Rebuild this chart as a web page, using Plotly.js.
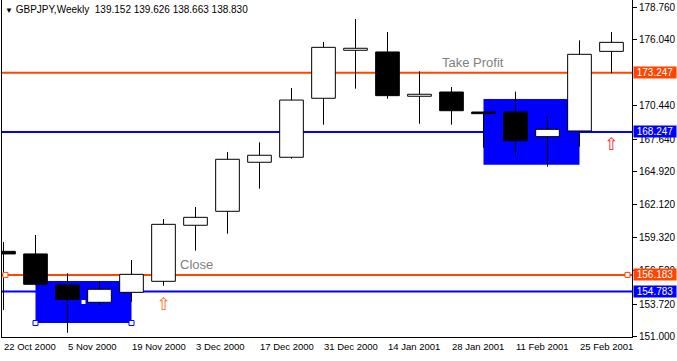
<!DOCTYPE html>
<html><head><meta charset="utf-8">
<script src="https://cdn.plot.ly/plotly-3.0.1.min.js"></script>
<style>html,body{margin:0;padding:0;background:#fff}#chart{width:677px;height:361px}</style>
</head><body><div id="chart"></div>
<script>
// ---- data ----
const dates = ["22 Oct 2000","29 Oct 2000","5 Nov 2000","12 Nov 2000","19 Nov 2000","26 Nov 2000","3 Dec 2000","10 Dec 2000","17 Dec 2000","24 Dec 2000","31 Dec 2000","7 Jan 2001","14 Jan 2001","21 Jan 2001","28 Jan 2001","4 Feb 2001","11 Feb 2001","18 Feb 2001","25 Feb 2001","4 Mar 2001"];
const open  = [158.17,157.95,155.33,153.87,154.71,155.64,160.37,161.55,165.69,166.11,171.09,175.14,175.00,171.26,171.62,169.93,169.93,167.85,168.33,175.05];
const high  = [158.96,159.55,156.32,155.67,157.44,160.90,161.91,166.56,167.37,171.96,175.84,177.78,176.68,173.37,172.04,169.95,171.65,169.62,175.98,176.68];
const low   = [153.22,155.30,151.30,153.64,153.92,155.27,158.23,159.66,163.46,165.99,168.86,171.90,171.05,168.94,168.86,166.92,166.30,165.32,167.00,173.20];
const close = [157.95,155.39,154.12,154.97,156.23,160.45,161.04,165.94,166.28,170.94,175.39,175.31,171.31,171.43,170.04,169.79,167.51,168.47,174.80,175.81];

const levelPrices = [173.247, 168.247, 156.183, 154.783];
const levelNames  = ["Take Profit", "", "Close", ""];
const levelNameBar = [13.65, null, 5.45, null];

const rectStartBar = [1, 15];
const rectEndBar   = [4, 18];
const rectTop      = [155.67, 171.03];
const rectBottom   = [152.12, 165.48];

const arrowBar   = [5, 19];
const arrowPrice = [153.56, 167.10];

const yTicks = [151.000,153.720,156.520,159.320,162.120,164.920,167.640,170.440,176.040,178.760];
const symbolName = "GBPJPY,Weekly";
const lastOHLC = "139.152 139.626 138.663 138.830";

// ---- styles ----
const ORANGE = '#FF4500', BLUE = '#0000FF';
const levelColors = [ORANGE, BLUE, ORANGE, BLUE];
const arrowColors = ['#FF6A1A', '#FF1A1A'];
const FONT = 'Liberation Sans, Arial, sans-serif';

const idx = dates.map((d, i) => i);
const bodyLo = idx.map(i => Math.min(open[i], close[i]));
const bodyHi = idx.map(i => Math.max(open[i], close[i]));

// wicks (upper and lower segments, so they don't cross bodies)
const wx = [], wy = [];
idx.forEach(i => {
  wx.push(i, i, null, i, i, null);
  wy.push(high[i], bodyHi[i], null, bodyLo[i], low[i], null);
});

const traces = [
  {type:'bar', x: idx, base: bodyLo, y: idx.map(i => bodyHi[i] - bodyLo[i]), width: 0.74,
   marker:{color: idx.map(i => close[i] >= open[i] ? '#FFFFFF' : '#000000'), line:{color:'#000', width:1}},
   hoverinfo:'skip', showlegend:false},
  {type:'scatter', mode:'lines', x: wx, y: wy, line:{color:'#000', width:1}, hoverinfo:'skip', showlegend:false, cliponaxis:true},
  {type:'scatter', mode:'text', x: arrowBar, y: arrowPrice, text: arrowBar.map(() => '\u21E7'),
   textfont:{family:'DejaVu Sans', size:17, color: arrowColors}, hoverinfo:'skip', showlegend:false},
  // selection handles derived from object geometry
  {type:'scatter', mode:'markers',
   x: [0.06, 19.5, rectStartBar[0], rectEndBar[0]],
   y: [levelPrices[2], levelPrices[2], rectBottom[0], rectBottom[0]],
   marker:{symbol:'square', size:5, color:'#fff', line:{width:1, color:[ORANGE, ORANGE, BLUE, BLUE]}},
   hoverinfo:'skip', showlegend:false, cliponaxis:false},
  {type:'scatter', mode:'markers',
   x: [(rectStartBar[0] + rectEndBar[0]) / 2], y: [(rectTop[0] + rectBottom[0]) / 2],
   marker:{symbol:'square', size:4, color:'#fff'}, hoverinfo:'skip', showlegend:false}
];

const shapes = [];
rectStartBar.forEach((s, i) => shapes.push({type:'rect', xref:'x', yref:'y', x0:s, x1:rectEndBar[i], y0:rectBottom[i], y1:rectTop[i],
  fillcolor:BLUE, line:{width:0}, layer:'below'}));
levelPrices.forEach((p, i) => shapes.push({type:'line', xref:'paper', yref:'y', x0:0, x1:1, y0:p, y1:p,
  line:{color:levelColors[i], width:2}, layer:'below'}));

const annotations = [];
levelPrices.forEach((p, i) => {
  annotations.push({xref:'paper', x:1, xanchor:'left', xshift:1, yref:'y', y:p, yanchor:'middle',
    text:p.toFixed(3), showarrow:false, bgcolor:levelColors[i], borderpad:0, width:42, height:11,
    font:{family:FONT, size:10, color:'#fff'}});
  if (levelNames[i]) annotations.push({xref:'x', x:levelNameBar[i], xanchor:'left', yref:'y', y:p, yanchor:'bottom', yshift:1,
    text:levelNames[i], showarrow:false, font:{family:FONT, size:13, color:'#808080'}});
});

const tickIdx = idx.filter(i => i % 2 === 0);
const layout = {
  width:677, height:361,
  margin:{l:2, r:45, t:0, b:24, pad:0},
  paper_bgcolor:'#fff', plot_bgcolor:'#fff',
  font:{family:FONT, size:10, color:'#000'},
  showlegend:false,
  title:{text:'<span style="font-size:8px">\u25BC</span>\u00a0' + symbolName + '\u00a0\u00a0' + lastOHLC,
    xref:'paper', x:0, xanchor:'left', yref:'paper', y:1, yanchor:'top', pad:{t:6, l:3},
    font:{family:FONT, size:10, color:'#000'}},
  xaxis:{range:[-0.047, 19.641], showgrid:false, zeroline:false, showline:true, mirror:true, linecolor:'#000', linewidth:1,
    tickvals: tickIdx, ticktext: tickIdx.map(i => dates[i]), ticks:'', ticklabelposition:'outside right', tickangle:0,
    ticklabelstandoff:1, tickfont:{family:FONT, size:9.5, color:'#000'}, fixedrange:true},
  yaxis:{range:[150.94, 179.385], side:'right', showgrid:false, zeroline:false, showline:true, mirror:true, linecolor:'#000', linewidth:1,
    tickvals: yTicks, tickformat:'.3f', ticks:'outside', ticklen:4, tickcolor:'#000',
    tickfont:{family:FONT, size:10, color:'#000'}, fixedrange:true},
  shapes, annotations
};

Plotly.newPlot('chart', traces, layout, {staticPlot:true, displayModeBar:false});
</script>
</body></html>
